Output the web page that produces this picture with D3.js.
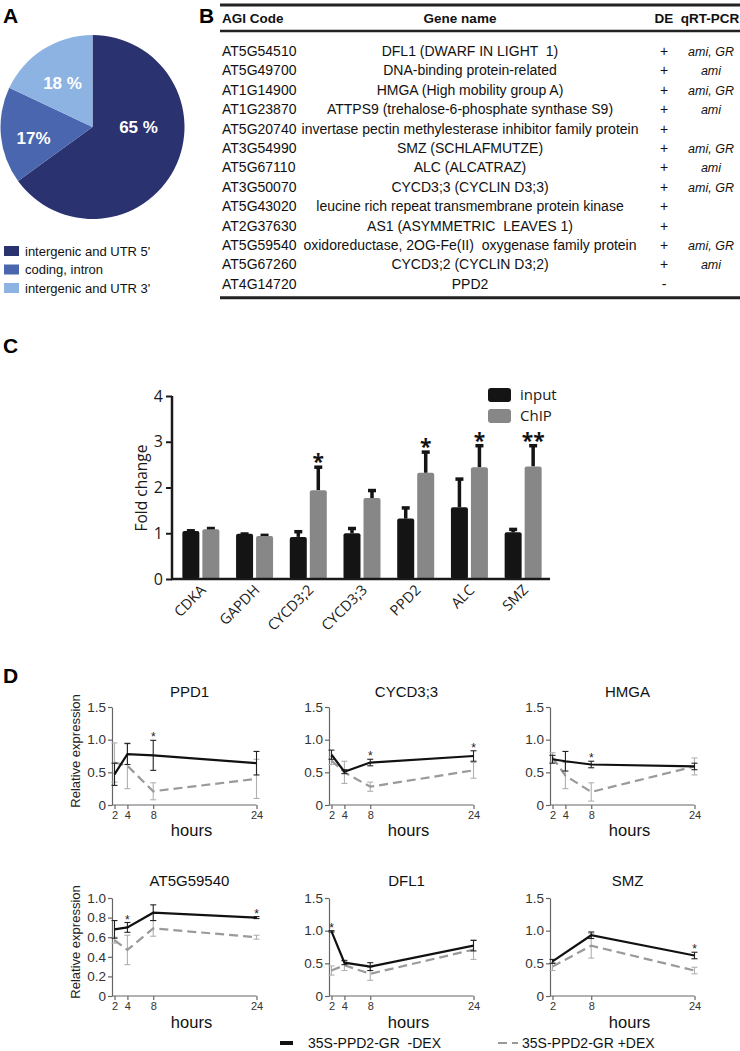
<!DOCTYPE html>
<html><head><meta charset="utf-8">
<script src="https://cdn.jsdelivr.net/npm/d3@7"></script>
<style>body{margin:0;background:#fff}svg{display:block}</style>
</head><body><svg id="c" width="740" height="1051"></svg>
<script>
// ---------- Panel A data ----------
const pieLabels = ["intergenic and UTR 5'", "coding, intron", "intergenic and UTR 3'"];
const pieValues = [65, 17, 18];
const pieTexts = ["65 %", "17%", "18 %"];
const pieColors = ["#2b3270", "#4a66ae", "#8db3e2"];

// ---------- Panel B data ----------
const tableHeader = ["AGI Code", "Gene name", "DE", "qRT-PCR"];
const agiCodes = ["AT5G54510","AT5G49700","AT1G14900","AT1G23870","AT5G20740","AT3G54990","AT5G67110","AT3G50070","AT5G43020","AT2G37630","AT5G59540","AT5G67260","AT4G14720"];
const geneNames = ["DFL1 (DWARF IN LIGHT  1)","DNA-binding protein-related","HMGA (High mobility group A)","ATTPS9 (trehalose-6-phosphate synthase S9)","invertase pectin methylesterase inhibitor family protein","SMZ (SCHLAFMUTZE)","ALC (ALCATRAZ)","CYCD3;3 (CYCLIN D3;3)","leucine rich repeat transmembrane protein kinase","AS1 (ASYMMETRIC  LEAVES 1)","oxidoreductase, 2OG-Fe(II)  oxygenase family protein","CYCD3;2 (CYCLIN D3;2)","PPD2"];
const deMarks = ["+","+","+","+","+","+","+","+","+","+","+","+","-"];
const qrtPcr = ["ami, GR","ami","ami, GR","ami","","ami, GR","ami","ami, GR","","","ami, GR","ami",""];

// ---------- Panel C data ----------
const chipGenes = ["CDKA","GAPDH","CYCD3;2","CYCD3;3","PPD2","ALC","SMZ"];
const inputValues = [1.05, 0.99, 0.92, 1.00, 1.32, 1.57, 1.02];
const inputErrors = [0.02, 0.01, 0.13, 0.12, 0.25, 0.63, 0.08];
const chipValues  = [1.09, 0.94, 1.94, 1.77, 2.32, 2.44, 2.46];
const chipErrors  = [0.03, 0.03, 0.52, 0.18, 0.47, 0.49, 0.47];
const chipStars   = ["", "", "*", "", "*", "*", "**"];
const chipTicks = [0, 1, 2, 3, 4];

// ---------- Panel D data ----------
const panelTitles = ["PPD1", "CYCD3;3", "HMGA", "AT5G59540", "DFL1", "SMZ"];
const timeHours = [[2,4,8,24],[2,4,8,24],[2,4,8,24],[2,4,8,24],[2,4,8,24],[2,8,24]];
const minusDex    = [[0.47,0.78,0.76,0.64],[0.77,0.51,0.65,0.75],[0.70,0.67,0.62,0.59],[0.68,0.70,0.85,0.80],[0.99,0.51,0.45,0.77],[0.53,0.93,0.62]];
const minusDexErr = [[0.17,0.16,0.23,0.18],[0.07,0.03,0.05,0.08],[0.06,0.15,0.05,0.05],[0.09,0.05,0.08,0.01],[0.01,0.03,0.06,0.08],[0.03,0.05,0.05]];
const plusDex     = [[0.65,0.60,0.21,0.40],[0.68,0.50,0.28,0.53],[0.73,0.45,0.20,0.59],[0.57,0.47,0.69,0.60],[0.39,0.47,0.34,0.71],[0.45,0.77,0.39]];
const plusDexErr  = [[0.30,0.35,0.13,0.30],[0.06,0.17,0.07,0.12],[0.07,0.20,0.14,0.13],[0.03,0.15,0.08,0.02],[0.07,0.08,0.10,0.15],[0.06,0.19,0.05]];
const starHours = [[8],[8,24],[8],[4,24],[2],[24]];
const yMaxes = [1.5, 1.5, 1.5, 1.0, 1.5, 1.5];
const yTicks15 = [0, 0.5, 1.0, 1.5];
const yTicks10 = [0, 0.2, 0.4, 0.6, 0.8, 1.0];
const xTickHours = [[2,4,8,24],[2,4,8,24],[2,4,8,24],[2,4,8,24],[2,4,8,24],[2,8,24]];
const legendLabels = ["35S-PPD2-GR  -DEX", "35S-PPD2-GR +DEX"];

const svg = d3.select("#c");
const ARIAL = "'Liberation Sans', Arial, sans-serif";
const OPEN = "'Open Sans', 'Liberation Sans', sans-serif";

function panelLetter(t, x, y) {
  svg.append("text").attr("x", x).attr("y", y).text(t)
    .attr("font-family", ARIAL).attr("font-weight", "bold").attr("font-size", 21).attr("fill", "#000");
}
panelLetter("A", 3, 23);
panelLetter("B", 199, 23);
panelLetter("C", 3, 353);
panelLetter("D", 3, 683);

// ---------- Panel A ----------
(function () {
  const g = svg.append("g").attr("transform", "translate(92.5,127)");
  const r = 92;
  const pie = d3.pie().sort(null)(pieValues);
  const arc = d3.arc().innerRadius(0).outerRadius(r);
  g.selectAll("path").data(pie).join("path").attr("d", arc).attr("fill", (d, i) => pieColors[i]);
  const labelPos = [[46, 6], [-59, 17], [-30, -38]];
  g.selectAll("text.pl").data(pieTexts).join("text").attr("class", "pl")
    .attr("x", (d, i) => labelPos[i][0]).attr("y", (d, i) => labelPos[i][1])
    .attr("text-anchor", "middle").attr("font-family", ARIAL).attr("font-weight", "bold")
    .attr("font-size", 17).attr("fill", "#fff").text(d => d);
  const lg = svg.append("g");
  pieLabels.forEach((lab, i) => {
    const y = 251 + i * 18.5;
    lg.append("rect").attr("x", 4).attr("y", y - 5).attr("width", 15).attr("height", 10).attr("fill", pieColors[i]);
    lg.append("text").attr("x", 25).attr("y", y + 4.5).text(lab)
      .attr("font-family", ARIAL).attr("font-size", 13).attr("fill", "#111");
  });
})();

// ---------- Panel B ----------
(function () {
  const g = svg.append("g").attr("font-family", ARIAL).attr("fill", "#111");
  const x0 = 220, x1 = 740;
  g.append("line").attr("x1", x0).attr("x2", x1).attr("y1", 5).attr("y2", 5).attr("stroke", "#222").attr("stroke-width", 3);
  g.append("line").attr("x1", x0).attr("x2", x1).attr("y1", 31).attr("y2", 31).attr("stroke", "#222").attr("stroke-width", 2.5);
  const hx = [[222, "start"], [460, "middle"], [664, "middle"], [710, "middle"]];
  tableHeader.forEach((h, i) => {
    g.append("text").attr("x", hx[i][0]).attr("y", 23).attr("text-anchor", hx[i][1])
      .attr("font-weight", "bold").attr("font-size", 13.5).text(h);
  });
  const rowY = i => 51 + i * 19.4;
  agiCodes.forEach((c, i) => {
    const y = rowY(i) + 5;
    g.append("text").attr("x", 222).attr("y", y).attr("font-size", 14).text(c);
    g.append("text").attr("x", 470).attr("y", y).attr("text-anchor", "middle").attr("font-size", 14)
      .style("white-space", "pre").text(geneNames[i]);
    g.append("text").attr("x", 664).attr("y", y).attr("text-anchor", "middle").attr("font-size", 14).text(deMarks[i]);
    if (qrtPcr[i]) g.append("text").attr("x", 711).attr("y", y).attr("text-anchor", "middle")
      .attr("font-size", 12.5).attr("font-style", "italic").text(qrtPcr[i]);
  });
  const yb = rowY(agiCodes.length - 1) + 14;
  g.append("line").attr("x1", x0).attr("x2", x1).attr("y1", yb).attr("y2", yb).attr("stroke", "#222").attr("stroke-width", 3);
})();

// ---------- Panel C ----------
(function () {
  const g = svg.append("g");
  const x = d3.scaleBand().domain(chipGenes).range([174, 550]);
  const y = d3.scaleLinear().domain([0, 4]).range([579, 396]);
  const bw = 17, gap = 1.5;
  chipGenes.forEach((gene, i) => {
    const c = x(gene) + x.bandwidth() / 2;
    const series = [
      { v: inputValues[i], e: inputErrors[i], x: c - gap - bw, col: "#141414" },
      { v: chipValues[i], e: chipErrors[i], x: c + gap, col: "#878787" }
    ];
    series.forEach(s => {
      const cx = s.x + bw / 2;
      g.append("line").attr("x1", cx).attr("x2", cx).attr("y1", y(s.v)).attr("y2", y(s.v + s.e))
        .attr("stroke", "#141414").attr("stroke-width", 3.5);
      g.append("rect").attr("x", cx - 4).attr("y", y(s.v + s.e) - 1).attr("width", 8).attr("height", 3.5).attr("fill", "#141414");
      g.append("rect").attr("x", s.x).attr("y", y(s.v)).attr("width", bw).attr("height", y(0) - y(s.v))
        .attr("rx", 2).attr("fill", s.col);
    });
    if (chipStars[i]) {
      g.append("text").attr("x", c + gap + bw / 2).attr("y", y(chipValues[i] + chipErrors[i]) + 3)
        .attr("text-anchor", "middle").attr("font-family", OPEN).attr("font-weight", "bold")
        .attr("font-size", 21).attr("fill", "#111").text(chipStars[i]);
    }
  });
  const yAx = g.append("g").attr("transform", "translate(172,0)")
    .call(d3.axisLeft(y).tickValues(chipTicks).tickSize(6).tickFormat(d3.format("d")));
  yAx.select(".domain").attr("stroke", "#1a1a1a").attr("stroke-width", 2.5).attr("d", "M0,396V579");
  yAx.selectAll(".tick line").attr("stroke", "#1a1a1a").attr("stroke-width", 2);
  yAx.selectAll(".tick text").attr("font-family", OPEN).attr("font-size", 16).attr("fill", "#1a1a1a").attr("x", -9);
  g.append("line").attr("x1", 171).attr("x2", 550).attr("y1", 579).attr("y2", 579).attr("stroke", "#1a1a1a").attr("stroke-width", 2.5);
  chipGenes.forEach(gene => {
    const c = x(gene) + x.bandwidth() / 2;
    g.append("text").attr("transform", `translate(${c + 6},${591}) rotate(-45)`)
      .attr("text-anchor", "end").attr("font-family", OPEN).attr("font-size", 14.5).attr("fill", "#1a1a1a").text(gene);
  });
  g.append("text").attr("transform", "translate(147,488) rotate(-90)").attr("text-anchor", "middle")
    .attr("font-family", OPEN).attr("font-size", 15.5).attr("fill", "#1a1a1a").text("Fold change");
  const legC = [["input", "#141414"], ["ChIP", "#878787"]];
  legC.forEach((l, i) => {
    g.append("rect").attr("x", 488).attr("y", 388 + i * 21).attr("width", 23).attr("height", 14).attr("rx", 3).attr("fill", l[1]);
    g.append("text").attr("x", 520).attr("y", 400 + i * 21).attr("font-family", OPEN).attr("font-size", 15).attr("fill", "#1a1a1a").text(l[0]);
  });
})();

// ---------- Panel D ----------
(function () {
  const colAxis = [112, 329, 550];
  const rowBase = [805, 996];
  const rowTop = [707, 898];
  const titleY = [697, 886];
  const hoursY = [836, 1028];
  panelTitles.forEach((title, k) => {
    const col = k % 3, row = Math.floor(k / 3);
    const ax = colAxis[col];
    const g = svg.append("g").attr("font-family", ARIAL);
    const x = d3.scaleLinear().domain([2, 24]).range([ax + 2.5, ax + 144.5]);
    const y = d3.scaleLinear().domain([0, yMaxes[k]]).range([rowBase[row], rowTop[row]]);
    const ticks = yMaxes[k] === 1.0 ? yTicks10 : yTicks15;
    const yAx = g.append("g").attr("transform", `translate(${ax},0)`)
      .call(d3.axisLeft(y).tickValues(ticks).tickSize(4).tickSizeOuter(0)
        .tickFormat(d => d === 0 ? "0" : d3.format(".1f")(d)));
    yAx.select(".domain").attr("stroke", "#666").attr("stroke-width", 1.2);
    yAx.selectAll(".tick line").attr("stroke", "#666").attr("stroke-width", 1.2);
    yAx.selectAll(".tick text").attr("font-family", ARIAL).attr("font-size", 13.5).attr("fill", "#333").attr("x", -6);
    const xAx = g.append("g").attr("transform", `translate(0,${rowBase[row]})`)
      .call(d3.axisBottom(x).tickValues(xTickHours[k]).tickSize(4).tickSizeOuter(0).tickFormat(d3.format("d")));
    xAx.select(".domain").attr("stroke", "#666").attr("stroke-width", 1.2).attr("d", `M${ax},0H${x(24)}`);
    xAx.selectAll(".tick line").attr("stroke", "#666").attr("stroke-width", 1.2);
    xAx.selectAll(".tick text").attr("font-family", ARIAL).attr("font-size", 11).attr("fill", "#333").attr("y", 6);
    const mid = (x(2) + x(24)) / 2;
    g.append("text").attr("x", mid + 4).attr("y", titleY[row]).attr("text-anchor", "middle")
      .attr("font-size", 15).attr("fill", "#111").text(title);
    g.append("text").attr("x", mid + 6).attr("y", hoursY[row]).attr("text-anchor", "middle")
      .attr("font-size", 16.5).attr("fill", "#111").text("hours");
    if (col === 0) {
      g.append("text").attr("transform", `translate(79.5,${(rowBase[row] + rowTop[row]) / 2 - 5}) rotate(-90)`)
        .attr("text-anchor", "middle").attr("font-size", 13).attr("fill", "#222").text("Relative expression");
    }
    const hrs = timeHours[k];
    const drawSeries = (vals, errs, col, width, dash, errCol) => {
      hrs.forEach((h, i) => {
        const cx = x(h), t = y(vals[i] + errs[i]), b = y(Math.max(0, vals[i] - errs[i]));
        g.append("line").attr("x1", cx).attr("x2", cx).attr("y1", t).attr("y2", b).attr("stroke", errCol).attr("stroke-width", 1.1);
        g.append("line").attr("x1", cx - 3).attr("x2", cx + 3).attr("y1", t).attr("y2", t).attr("stroke", errCol).attr("stroke-width", 1.1);
        g.append("line").attr("x1", cx - 3).attr("x2", cx + 3).attr("y1", b).attr("y2", b).attr("stroke", errCol).attr("stroke-width", 1.1);
      });
      const line = d3.line().x((d, i) => x(hrs[i])).y(d => y(d));
      g.append("path").attr("d", line(vals)).attr("fill", "none").attr("stroke", col)
        .attr("stroke-width", width).attr("stroke-dasharray", dash);
    };
    drawSeries(plusDex[k], plusDexErr[k], "#9a9a9a", 2.2, "9,5", "#b0b0b0");
    drawSeries(minusDex[k], minusDexErr[k], "#111", 2.2, null, "#222");
    starHours[k].forEach(h => {
      const i = hrs.indexOf(h);
      const top = Math.min(y(minusDex[k][i] + minusDexErr[k][i]), y(plusDex[k][i] + plusDexErr[k][i]));
      g.append("text").attr("x", x(h)).attr("y", top + 1).attr("text-anchor", "middle")
        .attr("font-size", 12).attr("fill", "#222").text("*");
    });
  });
  const lg = svg.append("g").attr("font-family", ARIAL);
  lg.append("line").attr("x1", 280).attr("x2", 293).attr("y1", 1043).attr("y2", 1043).attr("stroke", "#111").attr("stroke-width", 4);
  lg.append("text").attr("x", 308).attr("y", 1048).attr("font-size", 14).attr("fill", "#111")
    .style("white-space", "pre").text(legendLabels[0]);
  lg.append("line").attr("x1", 498).attr("x2", 518).attr("y1", 1043).attr("y2", 1043).attr("stroke", "#999").attr("stroke-width", 2)
    .attr("stroke-dasharray", "9,5");
  lg.append("text").attr("x", 522).attr("y", 1048).attr("font-size", 14).attr("fill", "#111").text(legendLabels[1]);
})();
</script></body></html>
